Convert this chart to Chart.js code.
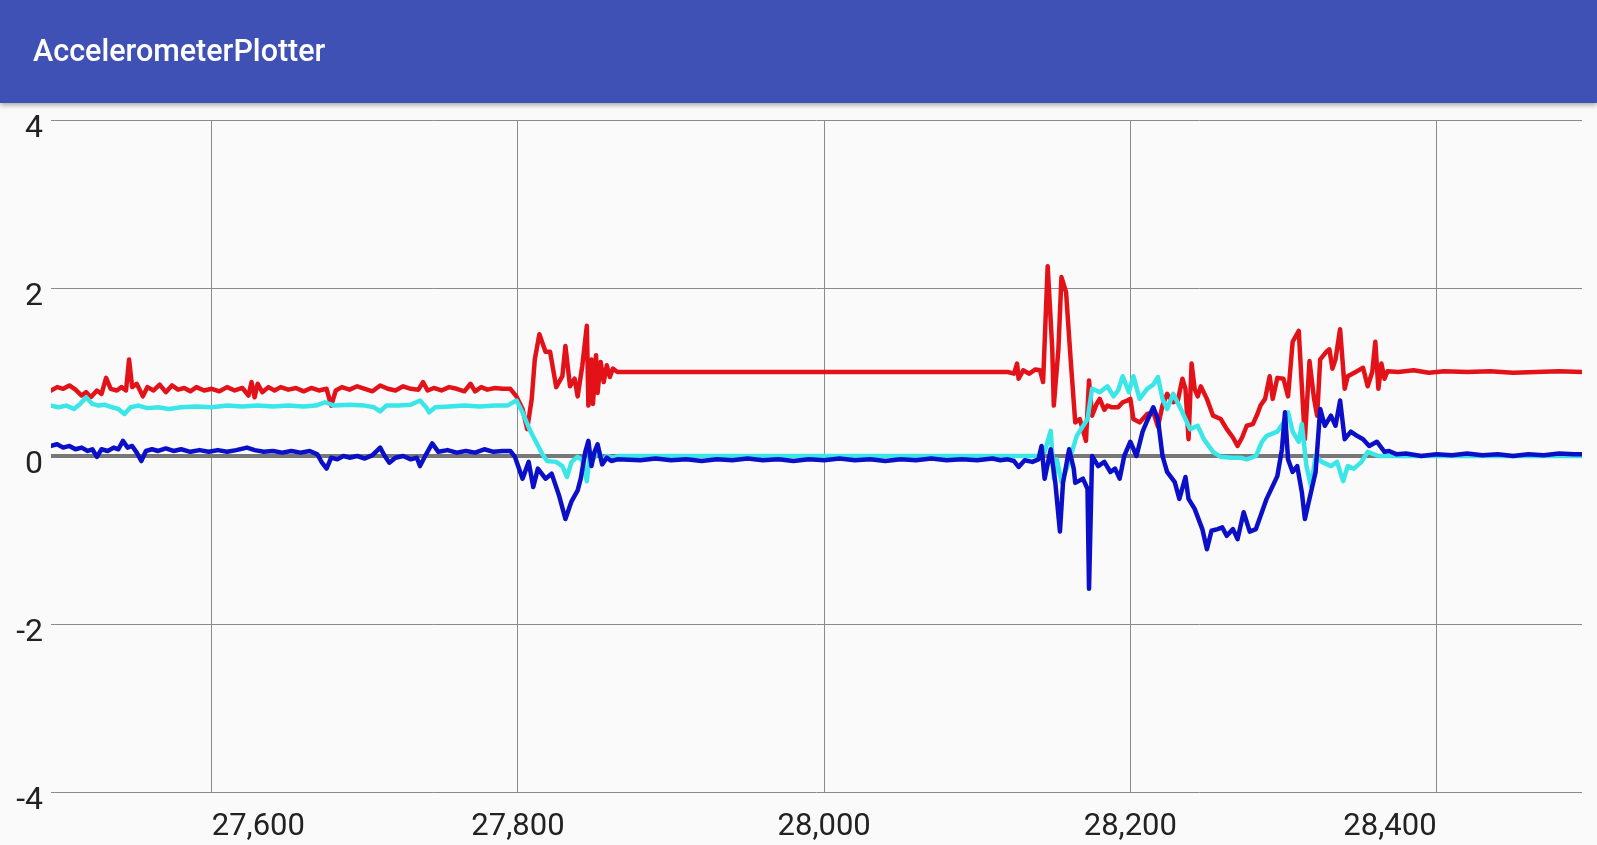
<!DOCTYPE html>
<html>
<head>
<meta charset="utf-8">
<script src="https://cdn.jsdelivr.net/npm/chart.js@4.4.1/dist/chart.umd.min.js"></script>
<style>
  html, body { margin: 0; padding: 0; background: #fafafa; overflow: hidden; }
  #bar {
    position: absolute; left: 0; top: 0; width: 1597px; height: 103px;
    background: #3f51b5; box-shadow: 0 2px 5px rgba(0,0,0,0.35); z-index: 2;
  }
  #bar span {
    position: absolute; left: 33px; top: 33px;
    font-family: Roboto, sans-serif; font-weight: 500; font-size: 30.5px; color: #fff;
    line-height: 36px;
  }
  #wrap { position: absolute; left: 0; top: 0; width: 1597px; height: 845px; }
</style>
</head>
<body>
<div id="bar"><span>AccelerometerPlotter</span></div>
<div id="wrap"><canvas id="myChart" width="1597" height="845"></canvas></div>
<script>
// tick values
var xTicks = [27600, 27800, 28000, 28200, 28400];
var xTickLabels = ['27,600', '27,800', '28,000', '28,200', '28,400'];
var yTicks = [-4, -2, 0, 2, 4];
var yTickLabels = ['-4', '-2', '0', '2', '4'];

// [time, value]
var redData = [
  [27495,0.78],[27499,0.82],[27503,0.80],[27507,0.84],[27511,0.79],[27515,0.72],[27518,0.76],[27521,0.70],[27525,0.78],[27528,0.74],
  [27531,0.93],[27534,0.80],[27538,0.78],[27541,0.82],[27544,0.78],[27546,1.15],[27548,0.82],[27551,0.86],[27555,0.71],[27558,0.82],
  [27562,0.78],[27566,0.85],[27570,0.76],[27574,0.84],[27578,0.79],[27582,0.81],[27586,0.77],[27590,0.82],[27595,0.78],[27600,0.80],
  [27605,0.77],[27610,0.82],[27615,0.78],[27620,0.81],[27624,0.72],[27626,0.88],[27628,0.70],[27630,0.86],[27633,0.76],[27637,0.82],
  [27641,0.78],[27645,0.82],[27650,0.79],[27655,0.81],[27660,0.77],[27665,0.81],[27670,0.78],[27675,0.80],[27678,0.60],[27681,0.78],
  [27685,0.82],[27690,0.79],[27695,0.83],[27700,0.80],[27705,0.77],[27710,0.84],[27715,0.80],[27720,0.78],[27725,0.83],[27730,0.80],
  [27735,0.79],[27738,0.88],[27741,0.78],[27745,0.81],[27750,0.78],[27755,0.82],[27760,0.80],[27765,0.77],[27769,0.86],[27772,0.77],
  [27776,0.82],[27780,0.79],[27785,0.81],[27790,0.80],[27795,0.80],
  [27799,0.71],[27803,0.56],[27806,0.32],[27809,0.68],[27811,1.15],[27814,1.45],[27818,1.24],[27821,1.24],[27825,0.82],[27829,0.95],
  [27831,1.31],[27834,0.83],[27837,0.92],[27839,0.71],[27842,1.07],[27845,1.55],[27846,0.60],[27848,1.15],[27849,0.62],[27851,1.20],
  [27852,0.75],[27854,1.12],[27856,0.88],[27858,1.08],[27860,0.94],[27862,1.04],[27865,1.00],
  [27900,1.00],[27950,1.00],[28000,1.00],[28050,1.00],[28100,1.00],[28120,1.00],
  [28124,0.98],[28126,1.10],[28127,0.92],[28130,1.02],[28134,0.98],[28138,1.03],[28141,1.02],[28143,0.88],[28146,2.26],[28149,1.27],
  [28150,0.60],[28153,1.27],[28155,2.13],[28158,1.95],[28161,1.15],[28164,0.40],[28167,0.44],[28171,0.18],[28173,0.90],[28175,0.48],
  [28178,0.62],[28180,0.68],[28183,0.55],[28185,0.60],[28188,0.58],[28192,0.58],[28195,0.64],[28198,0.66],[28200,0.68],[28202,0.44],
  [28206,0.40],[28211,0.50],[28215,0.52],[28218,0.35],[28221,0.60],[28224,0.74],[28228,0.64],[28231,0.66],[28234,0.92],[28236,0.80],
  [28238,0.20],[28240,1.10],[28242,0.80],[28244,0.71],[28246,0.83],[28250,0.68],[28254,0.48],[28259,0.44],[28263,0.32],[28267,0.22],
  [28270,0.12],[28273,0.22],[28276,0.36],[28280,0.38],[28283,0.50],[28285,0.60],[28288,0.68],[28291,0.95],[28293,0.68],[28296,0.93],
  [28300,0.92],[28303,0.71],[28306,1.36],[28310,1.49],[28312,0.83],[28314,0.20],[28317,1.13],[28320,0.68],[28322,0.48],[28324,1.15],
  [28328,1.24],[28330,1.27],[28332,1.04],[28334,1.15],[28337,1.51],[28340,0.80],[28342,0.95],[28345,0.98],[28348,1.01],[28352,1.05],
  [28355,0.83],[28358,1.00],[28360,1.36],[28362,0.80],[28364,1.10],[28366,0.92],[28368,1.01],
  [28375,1.00],[28385,1.02],[28395,0.99],[28405,1.01],[28420,1.00],[28435,1.01],[28450,0.99],[28465,1.00],[28480,1.01],[28495,1.00]
];

var cyanData = [
  [27495,0.60],[27500,0.58],[27505,0.60],[27510,0.56],[27514,0.62],[27518,0.70],[27522,0.62],[27526,0.60],[27530,0.61],[27535,0.58],
  [27539,0.56],[27543,0.50],[27547,0.58],[27552,0.60],[27558,0.57],[27565,0.58],[27572,0.56],[27580,0.58],[27590,0.59],[27600,0.58],
  [27610,0.60],[27620,0.59],[27630,0.60],[27640,0.59],[27650,0.60],[27660,0.59],[27668,0.60],[27674,0.64],[27680,0.60],[27690,0.61],
  [27700,0.60],[27706,0.58],[27710,0.53],[27714,0.60],[27722,0.60],[27730,0.61],[27736,0.66],[27740,0.58],[27742,0.52],[27746,0.58],
  [27755,0.59],[27765,0.60],[27775,0.59],[27785,0.60],[27793,0.60],[27799,0.66],
  [27803,0.52],[27808,0.30],[27812,0.16],[27816,0.02],[27819,-0.06],[27825,-0.07],[27829,-0.12],[27832,-0.25],[27835,-0.07],[27839,-0.01],
  [27842,-0.05],[27845,-0.30],[27847,0.04],[27850,-0.02],[27852,0.12],[27855,-0.07],[27858,0.00],[27862,-0.02],[27866,0.00],
  [27900,0.00],[27950,0.00],[28000,0.00],[28050,0.00],[28100,0.00],[28141,0.00],
  [28144,0.05],[28148,0.30],[28150,-0.27],[28152,-0.04],[28155,-0.31],[28159,-0.12],[28165,0.24],[28172,0.44],[28175,0.80],[28180,0.76],
  [28185,0.83],[28189,0.71],[28192,0.78],[28195,0.95],[28199,0.76],[28202,0.95],[28206,0.68],[28211,0.80],[28215,0.85],[28218,0.94],
  [28221,0.68],[28224,0.56],[28228,0.74],[28234,0.52],[28239,0.32],[28244,0.36],[28248,0.20],[28254,0.05],[28259,-0.01],[28266,-0.02],
  [28272,-0.02],[28276,-0.04],[28282,0.00],[28286,0.17],[28289,0.24],[28296,0.29],[28300,0.40],[28303,0.52],[28306,0.29],[28310,0.17],
  [28312,0.38],[28315,-0.12],[28318,-0.36],[28321,0.00],[28325,-0.07],[28331,-0.12],[28335,-0.07],[28339,-0.30],[28342,-0.12],[28346,-0.15],
  [28351,-0.07],[28355,0.05],[28362,0.00],
  [28380,0.00],[28400,0.00],[28430,0.00],[28460,0.00],[28495,0.00]
];

var blueData = [
  [27495,0.12],[27499,0.14],[27503,0.10],[27507,0.12],[27511,0.08],[27515,0.10],[27519,0.06],[27522,0.08],[27525,-0.01],[27528,0.08],
  [27532,0.06],[27536,0.10],[27539,0.08],[27542,0.18],[27545,0.10],[27548,0.12],[27551,0.04],[27554,-0.06],[27557,0.06],[27561,0.08],
  [27565,0.06],[27570,0.09],[27575,0.06],[27580,0.08],[27586,0.05],[27592,0.07],[27598,0.05],[27604,0.07],[27610,0.05],[27616,0.07],
  [27623,0.10],[27628,0.07],[27634,0.05],[27640,0.06],[27646,0.04],[27652,0.06],[27658,0.04],[27664,0.06],[27669,0.02],[27672,-0.08],
  [27675,-0.15],[27678,-0.02],[27682,-0.04],[27686,0.00],[27690,-0.02],[27695,0.00],[27700,-0.03],[27705,0.01],[27710,0.10],[27713,0.00],
  [27716,-0.08],[27720,-0.02],[27725,0.00],[27730,-0.04],[27734,-0.02],[27736,-0.12],[27740,0.02],[27744,0.15],[27748,0.05],[27754,0.07],
  [27760,0.04],[27766,0.06],[27772,0.04],[27778,0.08],[27784,0.05],[27790,0.06],[27795,0.06],[27798,-0.01],
  [27803,-0.27],[27807,-0.07],[27810,-0.37],[27813,-0.15],[27818,-0.27],[27822,-0.21],[27827,-0.48],[27831,-0.75],[27835,-0.54],[27839,-0.41],
  [27841,-0.27],[27844,0.05],[27846,0.18],[27848,-0.12],[27850,0.05],[27852,0.14],[27855,-0.10],[27858,-0.02],[27861,-0.06],[27865,-0.04],
  [27880,-0.05],[27890,-0.03],[27900,-0.05],[27910,-0.04],[27920,-0.06],[27930,-0.04],[27940,-0.05],[27950,-0.03],[27960,-0.05],[27970,-0.04],
  [27980,-0.06],[27990,-0.04],[28000,-0.05],[28010,-0.03],[28020,-0.05],[28030,-0.04],[28040,-0.06],[28050,-0.04],[28060,-0.05],[28070,-0.03],
  [28080,-0.05],[28090,-0.04],[28100,-0.05],[28110,-0.03],[28115,-0.05],
  [28120,-0.04],[28124,-0.06],[28127,-0.13],[28131,-0.05],[28136,-0.07],[28140,-0.04],[28142,0.12],[28144,-0.27],[28148,0.08],[28151,-0.32],
  [28154,-0.90],[28156,-0.32],[28160,0.08],[28163,-0.15],[28164,-0.32],[28169,-0.27],[28172,-0.39],[28173,-1.58],[28175,0.00],[28179,-0.12],
  [28183,-0.07],[28187,-0.19],[28190,-0.15],[28193,-0.27],[28196,0.00],[28200,0.17],[28204,0.00],[28208,0.29],[28211,0.42],[28215,0.58],
  [28218,0.44],[28221,0.00],[28224,-0.19],[28229,-0.31],[28232,-0.51],[28236,-0.25],[28238,-0.51],[28242,-0.63],[28247,-0.87],[28250,-1.11],
  [28253,-0.89],[28257,-0.87],[28260,-0.85],[28263,-0.95],[28267,-0.87],[28270,-0.99],[28274,-0.67],[28278,-0.90],[28282,-0.87],[28289,-0.51],
  [28296,-0.24],[28299,0.08],[28301,0.52],[28303,-0.04],[28306,-0.19],[28309,-0.12],[28312,-0.43],[28314,-0.75],[28317,-0.51],[28321,-0.19],
  [28324,0.56],[28327,0.36],[28331,0.48],[28334,0.36],[28337,0.66],[28340,0.20],[28344,0.29],[28348,0.24],[28352,0.20],[28356,0.12],
  [28361,0.17],[28366,0.05],[28369,0.06],[28374,0.02],
  [28380,0.03],[28390,0.00],[28400,0.02],[28410,0.01],[28420,0.03],[28430,0.01],[28440,0.02],[28450,0.00],[28460,0.02],[28470,0.01],
  [28480,0.03],[28490,0.02],[28495,0.02]
];

function toPoints(arr) {
  return arr.map(function (p) { return { x: p[0], y: p[1] }; });
}

// draws the tick labels: first x label starts at its line, last one ends at it
var tickLabels = {
  id: 'tickLabels',
  afterDraw: function (chart) {
    var ctx = chart.ctx;
    var xs = chart.scales.x, ys = chart.scales.y;
    ctx.save();
    ctx.fillStyle = '#222';
    ctx.textBaseline = 'alphabetic';
    ctx.font = '31px Roboto';
    xTicks.forEach(function (v, i) {
      ctx.textAlign = i === 0 ? 'left' : (i === xTicks.length - 1 ? 'right' : 'center');
      ctx.fillText(xTickLabels[i], xs.getPixelForValue(v), 835);
    });
    ctx.font = '32px Roboto';
    ctx.textAlign = 'right';
    yTicks.forEach(function (v, i) {
      ctx.fillText(yTickLabels[i], 43, ys.getPixelForValue(v) + 17);
    });
    ctx.restore();
  }
};

var ctx = document.getElementById('myChart').getContext('2d');
var chart = new Chart(ctx, {
  type: 'line',
  data: {
    datasets: [
      { data: toPoints(blueData), borderColor: '#0b10c8' },
      { data: toPoints(cyanData), borderColor: '#3ae6e8' },
      { data: toPoints(redData), borderColor: '#e31219' }
    ]
  },
  options: {
    responsive: false,
    devicePixelRatio: 1,
    animation: false,
    layout: { padding: { left: 51, right: 15, top: 120, bottom: 53 } },
    elements: {
      line: { borderWidth: 4.5, tension: 0, borderJoinStyle: 'round', borderCapStyle: 'round' },
      point: { radius: 0 }
    },
    plugins: { legend: { display: false }, tooltip: { enabled: false } },
    scales: {
      x: {
        type: 'linear', min: 27495, max: 28495,
        afterBuildTicks: function (s) { s.ticks = xTicks.map(function (v) { return { value: v }; }); },
        ticks: { display: false },
        border: { display: false },
        grid: { color: '#8a8a8a', lineWidth: 1, drawTicks: false }
      },
      y: {
        min: -4, max: 4,
        afterBuildTicks: function (s) { s.ticks = yTicks.map(function (v) { return { value: v }; }); },
        ticks: { display: false },
        border: { display: false },
        grid: {
          drawTicks: false,
          color: function (c) { return c.tick && c.tick.value === 0 ? '#777777' : '#8a8a8a'; },
          lineWidth: function (c) { return c.tick && c.tick.value === 0 ? 4 : 1; }
        }
      }
    }
  },
  plugins: [tickLabels]
});
</script>
</body>
</html>
